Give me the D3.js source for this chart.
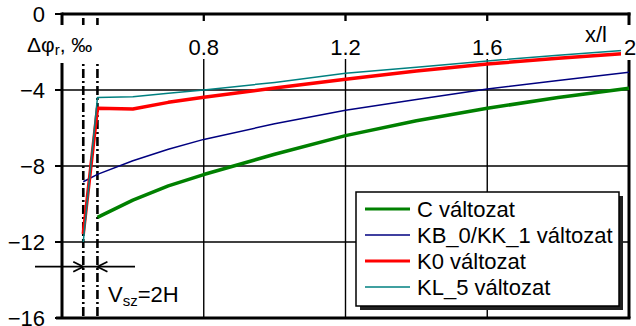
<!DOCTYPE html>
<html><head><meta charset="utf-8">
<script src="https://cdn.jsdelivr.net/npm/d3@7"></script>
<style>
html,body{margin:0;padding:0;background:#fff;}
svg{display:block;font-family:"Liberation Sans",Arial,sans-serif;}
</style></head>
<body><svg id="c" width="636" height="326"></svg>
<script>
// ---- data ----
const xs = [0.46, 0.5, 0.6, 0.7, 0.8, 1.0, 1.2, 1.4, 1.6, 1.8, 2.0];
const cValues  = [null, -10.7, -9.8, -9.05, -8.45, -7.38, -6.4, -5.62, -4.96, -4.4, -3.91];
const kbValues = [-8.83, -8.44, -7.72, -7.12, -6.6, -5.78, -5.07, -4.5, -3.95, -3.5, -3.07];
const k0Values = [-11.58, -4.96, -5.0, -4.65, -4.38, -3.9, -3.44, -3.0, -2.63, -2.33, -2.07];
const klValues = [-12.0, -4.4, -4.35, -4.17, -4.0, -3.6, -3.12, -2.8, -2.47, -2.17, -1.89];
const seriesNames = ["C változat", "KB_0/KK_1 változat", "K0 változat", "KL_5 változat"];
const seriesColors = ["#008000", "#000080", "#ff0000", "#008080"];
const seriesWidths = [3.5, 1.5, 3.5, 1.5];
const xTicks = [0.8, 1.2, 1.6, 2];
const yTicks = [0, -4, -8, -12, -16];
const markerXs = [0.46, 0.5];
const xLabel = "x/l";

const series = [cValues, kbValues, k0Values, klValues];

const svg = d3.select("#c");
const x = d3.scaleLinear().domain([0.4, 2]).range([62, 629]);
const y = d3.scaleLinear().domain([-16, 0]).range([318, 14]);
const fmt = d => d3.format("~g")(d);

// gridlines
svg.append("g").selectAll("line").data(yTicks.filter(d => d !== 0 && d !== -16)).join("line")
  .attr("x1", x(0.4)).attr("x2", x(2)).attr("y1", d => y(d)).attr("y2", d => y(d))
  .attr("stroke", "#000").attr("stroke-width", 1.4);
svg.append("g").selectAll("line").data(xTicks.filter(d => d !== 2)).join("line")
  .attr("x1", d => x(d)).attr("x2", d => x(d)).attr("y1", y(0)).attr("y2", y(-16))
  .attr("stroke", "#000").attr("stroke-width", 1.4);

// frame
const frame = svg.append("g").attr("stroke", "#000").attr("stroke-width", 3).attr("fill", "none");
frame.append("line").attr("x1", x(0.4)).attr("x2", x(2) + 1.5).attr("y1", y(0)).attr("y2", y(0));
frame.append("line").attr("x1", x(0.4) - 6).attr("x2", x(2) + 1.5).attr("y1", y(-16)).attr("y2", y(-16));
frame.append("line").attr("x1", x(0.4)).attr("x2", x(0.4)).attr("y1", y(0) - 1.5).attr("y2", y(-16));
frame.append("line").attr("x1", x(2)).attr("x2", x(2)).attr("y1", y(0) - 1.5).attr("y2", y(-16));

// y ticks
svg.append("g").selectAll("line").data(yTicks).join("line")
  .attr("x1", x(0.4) - 7).attr("x2", x(0.4)).attr("y1", d => y(d)).attr("y2", d => y(d))
  .attr("stroke", "#000").attr("stroke-width", 2);
// x ticks (top)
svg.append("g").selectAll("line").data(xTicks.filter(d => d !== 2)).join("line")
  .attr("x1", d => x(d)).attr("x2", d => x(d)).attr("y1", y(0)).attr("y2", y(0) + 7)
  .attr("stroke", "#000").attr("stroke-width", 2.2);

// dash-dot marker lines
svg.append("g").selectAll("line").data(markerXs).join("line")
  .attr("x1", d => x(d)).attr("x2", d => x(d)).attr("y1", y(0) + 4).attr("y2", y(-16))
  .attr("stroke", "#000").attr("stroke-width", 2.6).attr("stroke-dasharray", "9,3,2,3");

// series
const line = d3.line().defined(d => d[1] !== null).x(d => x(d[0])).y(d => y(d[1]));
series.forEach((vals, i) => {
  svg.append("path").datum(xs.map((xv, j) => [xv, vals[j]]))
    .attr("d", line).attr("fill", "none")
    .attr("stroke", seriesColors[i]).attr("stroke-width", seriesWidths[i])
    .attr("stroke-linejoin", "round");
});

// arrows
const ay = y(-13.3);
const arr = svg.append("g").attr("stroke", "#000").attr("stroke-width", 1.8).attr("fill", "none");
arr.append("line").attr("x1", x(0.4) - 27).attr("x2", x(0.606)).attr("y1", ay).attr("y2", ay);
arr.append("path").attr("d", `M${x(0.46) - 10},${ay - 5} L${x(0.46)},${ay} L${x(0.46) - 10},${ay + 5}`);
arr.append("path").attr("d", `M${x(0.5) + 10},${ay - 5} L${x(0.5)},${ay} L${x(0.5) + 10},${ay + 5}`);

// white label boxes
svg.append("rect").attr("x", 22).attr("y", 25).attr("width", 80).attr("height", 38).attr("fill", "#fff");
svg.append("g").selectAll("rect").data(xTicks).join("rect")
  .attr("x", d => x(d) - (d === 2 ? 8 : 20)).attr("y", d => d === 2 ? 25 : 21)
  .attr("width", d => d === 2 ? 16 : 40).attr("height", d => d === 2 ? 35 : 38).attr("fill", "#fff");

// x tick labels
svg.append("g").selectAll("text").data(xTicks).join("text")
  .attr("x", d => x(d) + (d === 2 ? 1 : 0)).attr("y", 55).attr("text-anchor", "middle")
  .attr("font-size", 22).attr("fill", "#000").text(fmt);
// y tick labels
svg.append("g").selectAll("text").data(yTicks).join("text")
  .attr("x", 45).attr("y", d => y(d) + 8).attr("text-anchor", "end")
  .attr("font-size", 22).attr("fill", "#000").text(fmt);

// axis titles
svg.append("text").attr("x", 585).attr("y", 42).attr("font-size", 22).text(xLabel);
const yl = svg.append("text").attr("x", 27).attr("y", 52).attr("font-size", 21);
yl.append("tspan").text("Δφ");
yl.append("tspan").attr("font-size", 15).attr("dy", 3).text("r");
yl.append("tspan").attr("dy", -3).text(", ‰");

// Vsz label
const vl = svg.append("text").attr("x", x(0.53)).attr("y", 302).attr("font-size", 22);
vl.append("tspan").text("V");
vl.append("tspan").attr("font-size", 15).attr("dy", 4).text("sz");
vl.append("tspan").attr("dy", -4).text("=2H");

// legend
const lg = svg.append("g").attr("transform", "translate(356,192)");
lg.append("rect").attr("x", 4).attr("y", 4).attr("width", 263).attr("height", 114).attr("fill", "#222");
lg.append("rect").attr("x", 0).attr("y", 0).attr("width", 263).attr("height", 114)
  .attr("fill", "#fff").attr("stroke", "#000").attr("stroke-width", 1.5);
seriesNames.forEach((name, i) => {
  const ry = 17 + i * 26;
  lg.append("line").attr("x1", 9).attr("x2", 54).attr("y1", ry).attr("y2", ry)
    .attr("stroke", seriesColors[i]).attr("stroke-width", seriesWidths[i] === 3.5 ? 3 : 1.5);
  lg.append("text").attr("x", 61).attr("y", ry + 8).attr("font-size", 22).text(name);
});
</script></body></html>
